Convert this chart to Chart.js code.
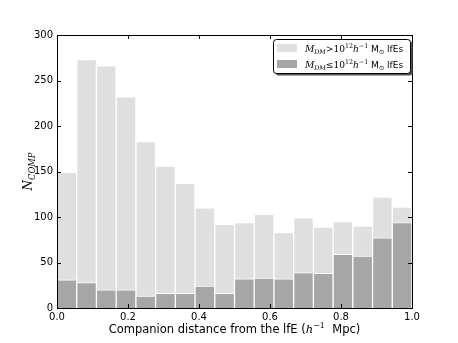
<!DOCTYPE html>
<html>
<head>
<meta charset="utf-8">
<script src="https://cdn.jsdelivr.net/npm/chart.js@4.4.0/dist/chart.umd.min.js"></script>
<style>
html, body { margin: 0; padding: 0; background: #fff; }
#chart { display: block; }
</style>
</head>
<body>
<canvas id="chart" width="458" height="343"></canvas>
<script>
// 18 equal bins of companion distance between 0 and 1 h^-1 Mpc
const binCount = 18;
const massiveCounts = [149, 273, 266, 232, 183, 156, 137, 110, 92, 94, 103, 83, 99, 89, 95, 90, 122, 111];
const lowMassCounts = [31, 28, 20, 20, 13, 16, 16, 24, 16, 32, 33, 32, 39, 38, 59, 57, 77, 94];
const xTickStep = 0.2;
const yTickStep = 50;

const lightGrey = "#dfdfdf";
const darkGrey = "#a6a6a6";

// rich text pieces (math parts in serif, like mathtext)
const legendMassive = [
    { t: "M", math: true, it: true }, { t: "DM", math: true, it: true, sub: true },
    { t: ">", math: true }, { t: "10", math: true }, { t: "12", math: true, sup: true },
    { t: "h", math: true, it: true }, { t: "\u22121", math: true, sup: true },
    { t: " M" }, { t: "\u2299", sub: true }, { t: " lfEs" },
];
const legendLowMass = [
    { t: "M", math: true, it: true }, { t: "DM", math: true, it: true, sub: true },
    { t: "\u2264", math: true }, { t: "10", math: true }, { t: "12", math: true, sup: true },
    { t: "h", math: true, it: true }, { t: "\u22121", math: true, sup: true },
    { t: " M" }, { t: "\u2299", sub: true }, { t: " lfEs" },
];
const yTitle = [{ t: "N", math: true, it: true }, { t: "COMP", math: true, it: true, sub: true }];
const xTitle = [
    { t: "Companion distance from the lfE (" }, { t: "h", math: true, it: true },
    { t: "\u22121", math: true, sup: true }, { t: "  Mpc)" },
];

function toPoints(counts) {
    return counts.map((v, i) => ({ x: (i + 0.5) / binCount, y: v }));
}

function fontOf(p, size) {
    const s = p.sub || p.sup ? size * 0.7 : size;
    const fam = p.math ? '"DejaVu Serif"' : '"DejaVu Sans"';
    return (p.it ? "italic " : "") + s.toFixed(1) + "px " + fam;
}

function richWidth(ctx, parts, size) {
    let w = 0;
    parts.forEach((p) => {
        ctx.font = fontOf(p, size);
        w += ctx.measureText(p.t).width;
    });
    return w;
}

function drawRich(ctx, parts, x, y, size, align) {
    let cx = align === "center" ? x - richWidth(ctx, parts, size) / 2 : x;
    ctx.textBaseline = "alphabetic";
    ctx.textAlign = "left";
    parts.forEach((p) => {
        ctx.font = fontOf(p, size);
        const dy = p.sub ? size * 0.25 : p.sup ? -size * 0.4 : 0;
        ctx.fillText(p.t, cx, y + dy);
        cx += ctx.measureText(p.t).width;
    });
}

const framePlugin = {
    id: "frame",
    afterDatasetsDraw(chart) {
        const { ctx, chartArea: a, scales } = chart;
        ctx.save();
        ctx.strokeStyle = "#000";
        ctx.lineWidth = 1;
        // inward ticks on all four sides
        ctx.beginPath();
        scales.x.ticks.forEach((t) => {
            const px = Math.round(scales.x.getPixelForValue(t.value)) + 0.5;
            ctx.moveTo(px, a.bottom); ctx.lineTo(px, a.bottom - 4);
            ctx.moveTo(px, a.top); ctx.lineTo(px, a.top + 4);
        });
        scales.y.ticks.forEach((t) => {
            const py = Math.round(scales.y.getPixelForValue(t.value)) + 0.5;
            ctx.moveTo(a.left, py); ctx.lineTo(a.left + 4, py);
            ctx.moveTo(a.right, py); ctx.lineTo(a.right - 4, py);
        });
        ctx.stroke();
        ctx.strokeRect(Math.round(a.left) + 0.5, Math.round(a.top) + 0.5,
            Math.round(a.right - a.left), Math.round(a.bottom - a.top));
        ctx.restore();
    },
    afterDraw(chart) {
        const { ctx, chartArea: a } = chart;
        ctx.save();
        ctx.fillStyle = "#000";

        // axis titles
        drawRich(ctx, xTitle, (a.left + a.right) / 2, 333, 11.5, "center");
        ctx.save();
        ctx.translate(32, (a.top + a.bottom) / 2);
        ctx.rotate(-Math.PI / 2);
        drawRich(ctx, yTitle, 0, 0, 12, "center");
        ctx.restore();

        // legend box in the upper right corner
        const bx = 273.5, by = 39.5, bw = 137, bh = 34;
        ctx.fillStyle = "#555";
        ctx.beginPath();
        ctx.roundRect(bx + 2, by + 2, bw, bh, 3);
        ctx.fill();
        ctx.fillStyle = "#fff";
        ctx.strokeStyle = "#000";
        ctx.lineWidth = 1;
        ctx.beginPath();
        ctx.roundRect(bx, by, bw, bh, 3);
        ctx.fill();
        ctx.stroke();

        const ds = chart.data.datasets;
        const rows = [[ds[0], legendMassive, 48], [ds[1], legendLowMass, 64]];
        rows.forEach(([d, parts, cy]) => {
            ctx.fillStyle = d.backgroundColor;
            ctx.fillRect(277, cy - 4, 20, 8);
            ctx.fillStyle = "#000";
            // fit the label into the width it takes in the reference
            const size = 9.5 * 98 / richWidth(ctx, parts, 9.5);
            drawRich(ctx, parts, 305, cy + 3.5, size, "left");
        });
        ctx.restore();
    },
};

const tickFont = { family: '"DejaVu Sans"', size: 10 };

new Chart(document.getElementById("chart"), {
    type: "bar",
    data: {
        datasets: [
            {
                label: "massive",
                data: toPoints(massiveCounts),
                backgroundColor: lightGrey,
                borderColor: "#fff",
                borderWidth: 1,
                grouped: false,
                barPercentage: 1,
                categoryPercentage: 1,
                order: 2,
            },
            {
                label: "low mass",
                data: toPoints(lowMassCounts),
                backgroundColor: darkGrey,
                borderColor: "#fff",
                borderWidth: 1,
                grouped: false,
                barPercentage: 1,
                categoryPercentage: 1,
                order: 1,
            },
        ],
    },
    options: {
        responsive: false,
        animation: false,
        layout: { padding: { left: 0, right: 46, top: 35, bottom: 0 } },
        plugins: { legend: { display: false }, tooltip: { enabled: false } },
        scales: {
            x: {
                type: "linear",
                min: 0,
                max: 1,
                offset: false,
                afterFit: (s) => { s.height = 35; },
                grid: { display: false, drawTicks: false, offset: false },
                border: { display: false },
                ticks: {
                    stepSize: xTickStep,
                    padding: 3,
                    color: "#000",
                    font: tickFont,
                    maxRotation: 0,
                    callback: (v) => v.toFixed(1),
                },
            },
            y: {
                min: 0,
                max: 300,
                afterFit: (s) => { s.width = 57; },
                grid: { display: false, drawTicks: false },
                border: { display: false },
                ticks: { stepSize: yTickStep, padding: 4, color: "#000", font: tickFont },
            },
        },
    },
    plugins: [framePlugin],
});
</script>
</body>
</html>
